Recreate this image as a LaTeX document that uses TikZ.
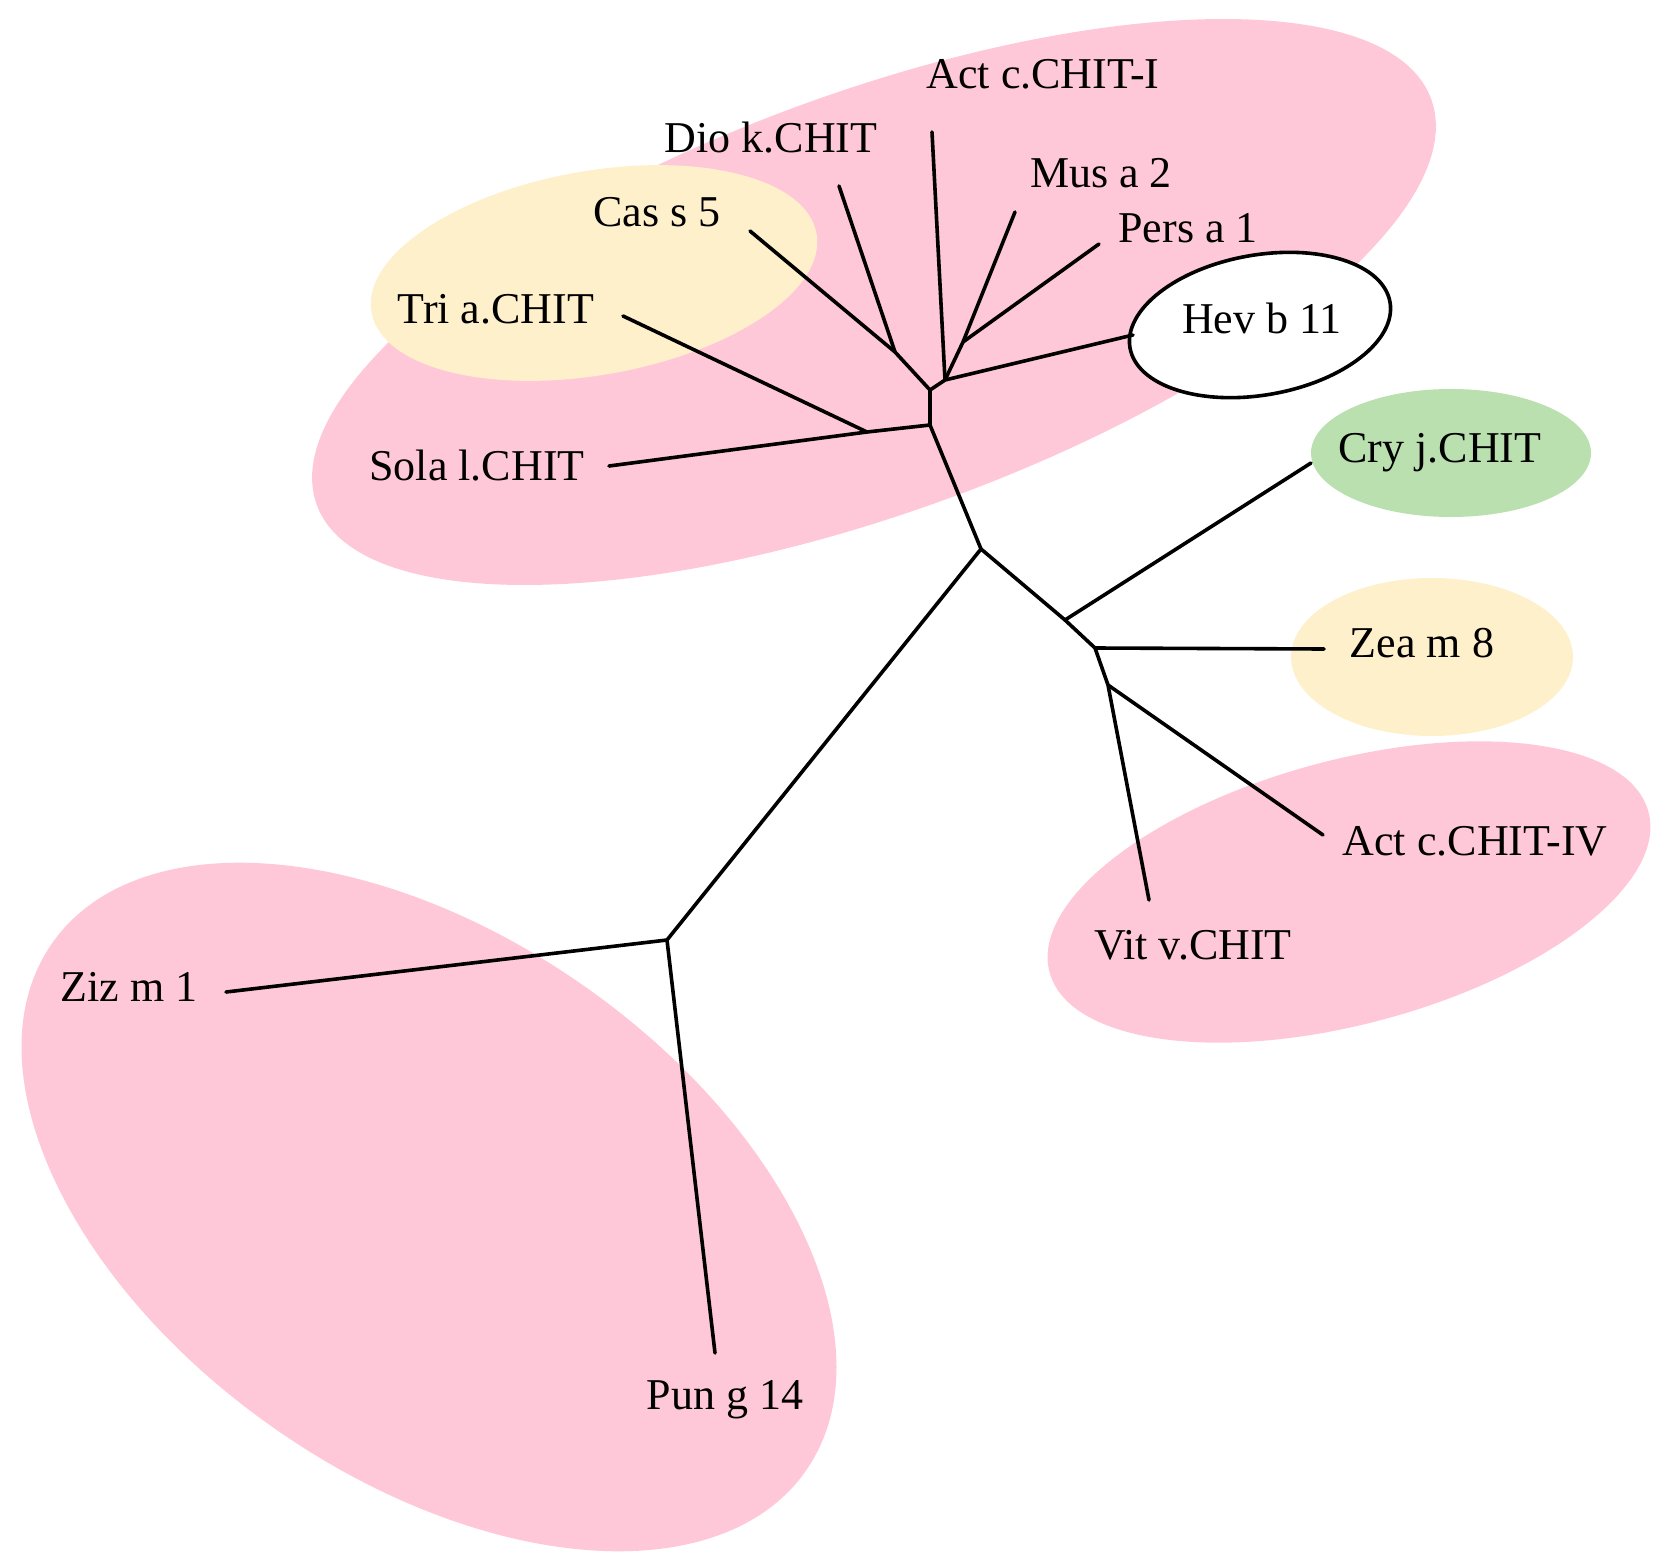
\documentclass[tikz,border=0pt]{standalone}
\usepackage{fontspec}
\setmainfont{Liberation Serif}
\begin{document}
\begin{tikzpicture}[x=0.5pt,y=-0.5pt,
  br/.style={line width=1.8pt,line cap=round,line join=round},
  lab/.style={font=\fontsize{22}{26}\selectfont,inner sep=1pt},
  pk/.style={fill={rgb,255:red,255;green,200;blue,216}},
  yl/.style={fill={rgb,255:red,255;green,240;blue,204}},
  gr/.style={fill={rgb,255:red,186;green,224;blue,176}}]
\useasboundingbox (0,0) rectangle (1661,1568);
% blobs
\fill[pk,rotate around={20:(874,302)}] (874,302) ellipse [x radius=593, y radius=210];
\fill[yl,rotate around={10:(594,273)}] (594,273) ellipse [x radius=226, y radius=102];
\filldraw[fill=white,draw=black,line width=1.8pt,rotate around={10:(1260,325)}] (1260,325) ellipse [x radius=132, y radius=70];
\fill[gr] (1451,453) ellipse [x radius=140, y radius=64];
\fill[yl] (1432,657) ellipse [x radius=141, y radius=79];
\fill[pk,rotate around={15:(1349,892)}] (1349,892) ellipse [x radius=310, y radius=132];
\fill[pk,rotate around={-35:(429,1207)}] (429,1207) ellipse [x radius=460, y radius=270];
% internal coordinates
\coordinate (r) at (981,549);
\coordinate (a) at (930,425);
\coordinate (b) at (930,390);
\coordinate (c) at (945,380);
\coordinate (d) at (895,352);
\coordinate (e) at (963,342);
\coordinate (t) at (867,432);
\coordinate (f) at (1065,620);
\coordinate (g) at (1095,648);
\coordinate (h) at (1108,685);
\coordinate (z) at (667,940);
% leaf ends
\coordinate (eSola) at (609,466);
\coordinate (eTri) at (623,316);
\coordinate (eCas) at (750,231);
\coordinate (eDio) at (839,186);
\coordinate (eAct) at (932,132);
\coordinate (eMus) at (1015,212);
\coordinate (ePers) at (1099,244);
\coordinate (eHev) at (1133,335);
\coordinate (eCry) at (1311,463);
\coordinate (eZea) at (1324,649);
\coordinate (eAIV) at (1323,835);
\coordinate (eVit) at (1149,900);
\coordinate (eZiz) at (226,992);
\coordinate (ePun) at (715,1353);
% labels
\node[lab] (lAct) at (1043,74) {Act c.CHIT-I};
\node[lab] (lDio) at (771,138) {Dio k.CHIT};
\node[lab] (lMus) at (1101,173) {Mus a 2};
\node[lab] (lCas) at (657,212) {Cas s 5};
\node[lab] (lPers) at (1188,228) {Pers a 1};
\node[lab] (lTri) at (496,309) {Tri a.CHIT};
\node[lab] (lHev) at (1262,318) {Hev b 11};
\node[lab] (lSola) at (477,466) {Sola l.CHIT};
\node[lab] (lCry) at (1440,453) {Cry j.CHIT};
\node[lab] (lZea) at (1422,643) {Zea m 8};
\node[lab] (lAIV) at (1475,841) {Act c.CHIT-IV};
\node[lab] (lVit) at (1193,945) {Vit v.CHIT};
\node[lab] (lZiz) at (129,987) {Ziz m 1};
\node[lab] (lPun) at (725,1400) {Pun g 14};
% tree
\draw[br] (z) -- (r) -- (a) -- (b) -- (c) -- (eHev);
\draw[br] (a) -- (t) -- (eSola);
\draw[br] (t) -- (eTri);
\draw[br] (b) -- (d) -- (eCas);
\draw[br] (d) -- (eDio);
\draw[br] (c) -- (eAct);
\draw[br] (c) -- (e) -- (eMus);
\draw[br] (e) -- (ePers);
\draw[br] (r) -- (f) -- (g) -- (h) -- (eVit);
\draw[br] (f) -- (eCry);
\draw[br] (g) -- (eZea);
\draw[br] (h) -- (eAIV);
\draw[br] (z) -- (eZiz);
\draw[br] (z) -- (ePun);
\end{tikzpicture}
\end{document}
